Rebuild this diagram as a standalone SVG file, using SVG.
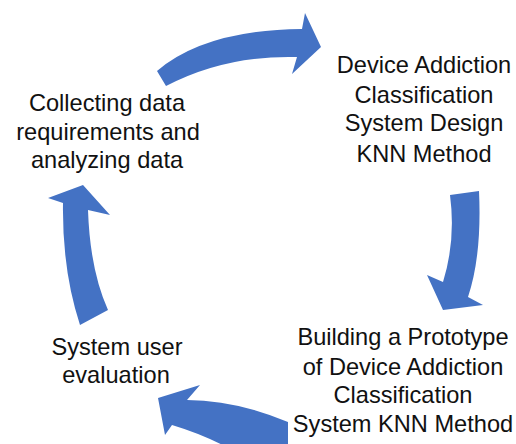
<svg xmlns="http://www.w3.org/2000/svg" width="516" height="444" viewBox="0 0 516 444">
<style>
.arrow{fill:#4472C4;stroke:none}
.lbl{font-family:"Liberation Sans",Arial,sans-serif;font-size:23.6px;fill:#111;text-anchor:middle}
</style>
<rect width="516" height="444" fill="#fff"/>
<g id="connectors">
<path class="arrow" d="M157,71 Q205,30 302,29 L305,13 L321,47 L292,74 L297,57 Q225,55 166,86 Z"/>
<path class="arrow" d="M450,195 L479,191 Q482,255 468,297 L483,305 L443,310 L427,275 L443,282 Q456,240 450,195 Z"/>
<path class="arrow" d="M158,398 L200,385 L187,400 Q235,400 288,422 L288,450 L232,450 Q205,435 172,425 L165,435 Z"/>
<path class="arrow" d="M83,185 L110,215 L88,210 Q90,270 108,310 L80,325 Q62,270 63,203 L48,198 Z"/>
</g>
<g id="node-collect">
<text class="lbl" x="107" y="111">Collecting data</text>
<text class="lbl" x="108" y="140">requirements and</text>
<text class="lbl" x="107" y="168">analyzing data</text>
</g>
<g id="node-design">
<text class="lbl" x="424" y="73">Device Addiction</text>
<text class="lbl" x="424" y="103">Classification</text>
<text class="lbl" x="424" y="131">System Design</text>
<text class="lbl" x="424" y="162">KNN Method</text>
</g>
<g id="node-prototype">
<text class="lbl" x="403" y="345">Building a Prototype</text>
<text class="lbl" x="403" y="375">of Device Addiction</text>
<text class="lbl" x="403" y="403">Classification</text>
<text class="lbl" x="403" y="432">System KNN Method</text>
</g>
<g id="node-evaluation">
<text class="lbl" x="117" y="355">System user</text>
<text class="lbl" x="116" y="383">evaluation</text>
</g>
</svg>
